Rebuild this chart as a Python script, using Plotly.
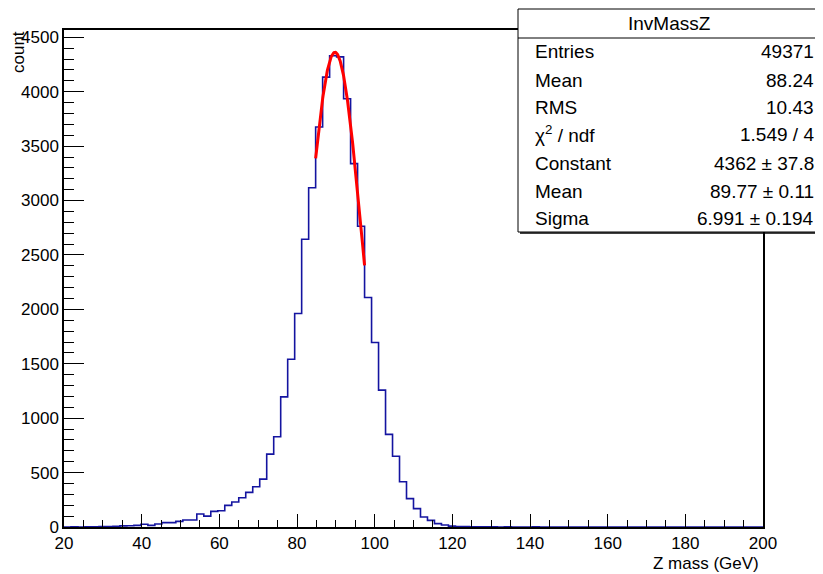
import numpy as np
import plotly.graph_objects as go

# ---------------- data ----------------
x_min = 20.0
bin_width = 1.8
n_bins = 100
counts = [
    0, 1, 0, 2, 1, 3, 4, 6,                      # 20.0 - 34.4
    10, 12, 15, 25, 15, 28, 40, 40, 52, 64,      # 34.4 - 52.4
    64, 120, 100, 144, 150, 199, 230,            # 52.4 - 65.0
    269, 318, 370, 440, 670, 829, 1196, 1542,    # 65.0 - 79.4
    1962, 2644, 3118, 3675, 4134, 4330, 4320,    # 79.4 - 92.0
    3935, 3339, 2763, 2109, 1695, 1258, 851,     # 92.0 - 104.6
    650, 416, 261, 169, 92, 61, 31, 18, 8,       # 104.6 - 120.8
    5, 3, 2, 2, 1, 1, 0, 1, 0, 0,                # 120.8 - 138.8
    0, 1, 0, 0, 0, 0, 0, 0, 0, 0,
    0, 0, 0, 0, 0, 0, 0, 0, 0, 0,
    0, 0, 0, 0, 0, 0, 0, 0, 0, 0,
    0, 0, 0, 0, 0, 0, 0,
]
fit_params = [4362.0, 89.77, 6.991]   # constant, mean, sigma
fit_range = [84.8, 97.4]

stats_title = "InvMassZ"
stats_labels = ["Entries", "Mean", "RMS", "χ<sup>2</sup> / ndf",
                "Constant", "Mean", "Sigma"]
stats_values = ["49371", "88.24", "10.43", "1.549 / 4",
                "4362 ± 37.8", "89.77 ± 0.11", "6.991 ± 0.194"]

x_ticks = [20, 40, 60, 80, 100, 120, 140, 160, 180, 200]
y_ticks = [0, 500, 1000, 1500, 2000, 2500, 3000, 3500, 4000, 4500]

# ---------------- figure ----------------
edges = [x_min + i * bin_width for i in range(n_bins + 1)]
step_x = edges
step_y = counts + [counts[-1]]

C, mu, sig = fit_params
fx = np.linspace(fit_range[0], fit_range[1], 200)
fy = C * np.exp(-0.5 * ((fx - mu) / sig) ** 2)

FONT = "Liberation Sans, Arial, sans-serif"

fig = go.Figure()
fig.add_trace(go.Scatter(x=step_x, y=step_y, mode="lines", line_shape="hv",
                         line=dict(color="rgb(20,20,160)", width=1.6),
                         showlegend=False, hoverinfo="skip"))
fig.add_trace(go.Scatter(x=fx, y=fy, mode="lines",
                         line=dict(color="rgb(255,0,0)", width=3),
                         showlegend=False, hoverinfo="skip"))

# page geometry (the page body has an 8px default margin)
OFF = 8
PAGE_W, PAGE_H = 823, 574
L, R, T, B = 64, 763, 30, 527   # plot area in page pixels


def px(x):
    return (x - L) / (R - L)


def py(y):
    return (B - y) / (B - T)


fig.update_layout(
    width=PAGE_W - OFF, height=PAGE_H - OFF,
    margin=dict(l=L - OFF, r=PAGE_W - R, t=T - OFF, b=PAGE_H - B, pad=0),
    paper_bgcolor="white", plot_bgcolor="white",
    font=dict(family=FONT, color="black"),
    xaxis=dict(range=[20, 200], tickvals=x_ticks, ticks="inside", ticklen=13,
               tickwidth=1, tickcolor="black",
               minor=dict(dtick=5, tick0=20, ticks="inside", ticklen=7,
                          tickcolor="black", tickwidth=1),
               showline=True, mirror=True, linecolor="black", linewidth=1.5,
               showgrid=False, zeroline=False,
               tickfont=dict(size=17, family=FONT, color="black")),
    yaxis=dict(range=[0, 4567], tickvals=y_ticks, ticks="inside", ticklen=20,
               tickwidth=1, tickcolor="black",
               minor=dict(dtick=100, tick0=0, ticks="inside", ticklen=10,
                          tickcolor="black", tickwidth=1),
               showline=True, mirror=True, linecolor="black", linewidth=1.5,
               showgrid=False, zeroline=False,
               tickfont=dict(size=17, family=FONT, color="black")),
)

shapes = []
# stats box
bx0, bx1, by0, by1 = 518, 821, 9, 232
shapes.append(dict(type="rect", xref="paper", yref="paper",
                   x0=px(bx0), x1=px(bx1), y0=py(by1), y1=py(by0),
                   line=dict(color="black", width=1), fillcolor="white",
                   layer="above"))
shapes.append(dict(type="line", xref="paper", yref="paper",
                   x0=px(bx0), x1=px(bx1), y0=py(38), y1=py(38),
                   line=dict(color="black", width=1), layer="above"))
shapes.append(dict(type="line", xref="paper", yref="paper",
                   x0=px(bx0 + 2), x1=px(bx1), y0=py(by1 + 1), y1=py(by1 + 1),
                   line=dict(color="black", width=1.5), layer="above"))
fig.update_layout(shapes=shapes)

ann = []
ann.append(dict(text=stats_title, xref="paper", yref="paper",
                x=px((bx0 + bx1) / 2), y=py(23), xanchor="center",
                yanchor="middle", showarrow=False,
                font=dict(size=19, family=FONT, color="black")))
row_y = [52, 80, 107, 134, 163, 191, 218]
for lab, val, yy in zip(stats_labels, stats_values, row_y):
    ann.append(dict(text=lab, xref="paper", yref="paper", x=px(533), y=py(yy),
                    xanchor="left", yanchor="middle", showarrow=False,
                    font=dict(size=19, family=FONT, color="black")))
    ann.append(dict(text=val, xref="paper", yref="paper", x=px(816), y=py(yy),
                    xanchor="right", yanchor="middle", showarrow=False,
                    font=dict(size=19, family=FONT, color="black")))
# axis titles
ann.append(dict(text="Z mass (GeV)", xref="paper", yref="paper",
                x=px(761), y=py(563), xanchor="right", yanchor="middle",
                showarrow=False, font=dict(size=17, family=FONT, color="black")))
ann.append(dict(text="count", xref="paper", yref="paper",
                x=px(18), y=py(29), xanchor="center", yanchor="top",
                textangle=-90, showarrow=False,
                font=dict(size=17, family=FONT, color="black")))
fig.update_layout(annotations=ann)

fig.write_html("out.html")
